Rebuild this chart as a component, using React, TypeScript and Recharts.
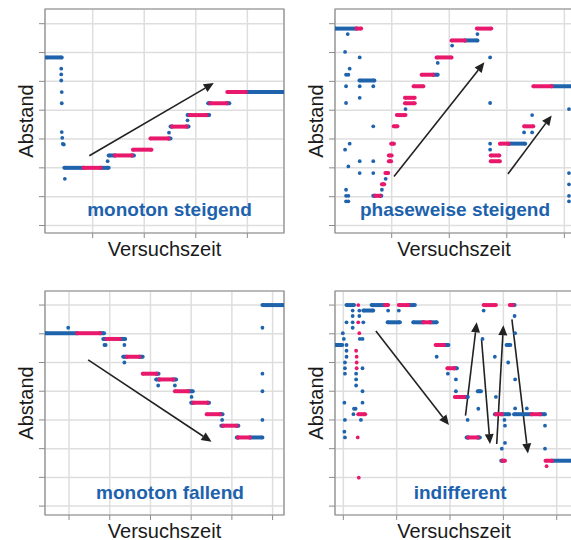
import {
  ScatterChart, Scatter, XAxis, YAxis, CartesianGrid, ReferenceLine, ReferenceArea, ReferenceDot, Label,
} from 'recharts'

const BLUE = '#1f63ad'
const PINK = '#e8196c'
const TITLE_BLUE = '#1d62ad'
const GRID = '#dedede'
const FRAME = '#8c8c8c'
const ARROW = '#222222'
const FONT = '"Liberation Sans", Arial, sans-serif'

// [x from, x to, level]
type Run = [number, number, number]
type Pt = [number, number]
// [x1, y1, x2, y2]
type Arrow = [number, number, number, number]

const Y_TICKS = [1, 2, 3, 4, 5, 6, 7, 8]

// --- monoton steigend
const p1BlueRuns: Run[] = [
  [0.1, 0.4, 6.83],
  [0.45, 0.82, 3.0], [1.155, 1.31, 3.0],
  [1.31, 1.43, 3.43], [1.76, 1.8, 3.43],
  [2.47, 2.51, 4.02],
  [2.51, 2.54, 4.43], [2.82, 2.86, 4.43],
  [2.84, 2.88, 4.83], [3.21, 3.26, 4.83],
  [3.24, 3.28, 5.24], [3.6, 3.65, 5.24],
  [3.97, 4.7, 5.63],
]
const p1PinkRuns: Run[] = [
  [0.82, 1.155, 3.0],
  [1.43, 1.76, 3.43],
  [1.78, 2.14, 3.63],
  [2.12, 2.47, 4.02],
  [2.54, 2.82, 4.43],
  [2.88, 3.21, 4.83],
  [3.28, 3.6, 5.24],
  [3.61, 3.97, 5.63],
]
const p1BlueDots: Pt[] = [
  [0.39, 6.44], [0.39, 6.24], [0.39, 6.03], [0.4, 5.63], [0.4, 5.24],
  [0.4, 4.24], [0.41, 4.04], [0.42, 3.83], [0.44, 3.81], [0.46, 2.62],
  [1.29, 3.23], [2.48, 4.22], [2.84, 4.65],
]
const p1PinkDots: Pt[] = []
const p1Arrows: Arrow[] = [[0.935, 3.42, 3.35, 5.94]]

// --- phaseweise steigend
const p2BlueRuns: Run[] = [
  [0.02, 0.39, 7.83],
  [0.44, 0.7, 6.03],
  [0.68, 0.71, 2.03], [0.8, 0.82, 2.03],
  [1.72, 1.8, 6.23],
  [2.27, 2.49, 7.42],
  [3.03, 3.32, 3.84],
  [3.78, 4.15, 5.83],
]
const p2PinkRuns: Run[] = [
  [0.39, 0.47, 7.83],
  [0.71, 0.8, 2.03],
  [0.83, 0.87, 2.43],
  [0.89, 0.94, 2.82],
  [0.95, 0.99, 3.23],
  [0.95, 1.0, 3.43],
  [0.99, 1.04, 3.84],
  [1.035, 1.1, 4.44],
  [1.09, 1.24, 4.83],
  [1.23, 1.4, 5.24],
  [1.23, 1.4, 5.43],
  [1.38, 1.55, 5.83],
  [1.52, 1.72, 6.23],
  [1.78, 2.04, 6.83],
  [2.04, 2.27, 7.42],
  [2.48, 2.73, 7.83],
  [2.72, 2.87, 3.43],
  [2.72, 2.88, 3.23],
  [2.88, 3.03, 3.84],
  [3.3, 3.46, 4.44],
  [3.46, 3.78, 5.83],
]
const p2BlueDots: Pt[] = [
  [0.236, 7.64], [0.19, 7.02], [0.444, 6.83], [0.27, 6.44], [0.207, 6.23], [0.247, 6.23],
  [0.207, 5.83], [0.207, 5.25], [0.19, 3.63], [0.27, 3.84], [0.247, 3.05],
  [0.207, 2.24], [0.207, 2.03], [0.247, 2.03], [0.207, 1.84], [0.247, 1.84],
  [0.444, 5.83], [0.444, 5.43], [0.68, 5.83], [0.68, 4.44],
  [0.444, 3.23], [0.68, 3.23], [0.444, 2.82], [0.68, 2.82],
  [0.83, 2.24], [0.896, 2.62], [1.24, 5.04], [1.8, 6.64], [2.05, 7.24], [2.49, 7.64],
  [2.71, 6.83], [2.71, 5.25], [2.71, 3.84], [2.71, 3.63],
  [3.3, 4.23], [3.44, 4.23], [3.44, 4.83],
  [4.08, 5.04], [4.08, 2.82], [4.08, 2.43], [4.08, 2.03], [4.08, 1.84],
]
const p2PinkDots: Pt[] = []
const p2Arrows: Arrow[] = [
  [1.04, 2.7, 2.61, 6.66],
  [3.02, 2.79, 3.78, 4.82],
]

// --- monoton fallend
const p3BlueRuns: Run[] = [
  [0.43, 1.2, 7.02], [1.76, 1.86, 7.02],
  [1.84, 1.92, 6.82], [2.25, 2.38, 6.82],
  [2.33, 2.42, 6.2], [2.73, 2.81, 6.2],
  [3.15, 3.2, 5.61],
  [3.14, 3.22, 5.41], [3.56, 3.63, 5.41],
  [3.93, 4.04, 5.0],
  [4.0, 4.05, 4.6], [4.4, 4.44, 4.6],
  [4.71, 4.77, 4.2],
  [4.74, 4.78, 3.8], [5.12, 5.16, 3.8],
  [5.12, 5.15, 3.39], [5.44, 5.75, 3.39],
  [5.75, 6.26, 8.0],
]
const p3PinkRuns: Run[] = [
  [1.2, 1.76, 7.02],
  [1.92, 2.25, 6.82],
  [2.42, 2.73, 6.2],
  [2.81, 3.15, 5.61],
  [3.22, 3.56, 5.41],
  [3.6, 3.93, 5.0],
  [4.05, 4.4, 4.6],
  [4.38, 4.71, 4.2],
  [4.78, 5.12, 3.8],
  [5.15, 5.44, 3.39],
]
const p3BlueDots: Pt[] = [
  [0.98, 7.21], [1.87, 6.61], [1.9, 6.61], [2.36, 6.61], [2.36, 6.0],
  [3.19, 5.2], [3.6, 5.2], [4.01, 4.8], [4.76, 4.0],
  [5.75, 4.0], [5.75, 5.0], [5.75, 5.61], [5.75, 7.21],
]
const p3PinkDots: Pt[] = []
const p3Arrows: Arrow[] = [[1.47, 6.09, 4.5, 3.24]]

// --- indifferent
const p4BlueRuns: Run[] = [
  [1.06, 1.2, 8.0], [1.53, 1.78, 8.0], [2.22, 2.34, 8.0], [4.18, 4.21, 8.0],
  [1.375, 1.56, 7.81],
  [1.83, 2.06, 7.4], [2.31, 2.5, 7.4], [2.63, 2.75, 7.4],
  [0.86, 0.98, 6.61], [2.89, 2.97, 6.61], [4.06, 4.13, 6.61],
  [3.08, 3.13, 5.8],
  [3.52, 3.58, 5.0],
  [3.28, 3.33, 4.8],
  [3.84, 3.86, 4.2], [3.97, 4.11, 4.2], [4.2, 4.53, 4.2], [4.69, 4.78, 4.2],
  [3.31, 3.34, 3.39], [3.52, 3.56, 3.39],
  [3.96, 3.98, 2.58], [4.91, 5.3, 2.58],
]
const p4PinkRuns: Run[] = [
  [1.78, 1.84, 8.0], [2.04, 2.22, 8.0], [3.63, 3.86, 8.0], [4.12, 4.18, 8.0],
  [2.5, 2.63, 7.4],
  [2.73, 2.89, 6.61],
  [2.95, 3.08, 5.8],
  [3.09, 3.28, 4.8],
  [1.28, 1.41, 4.2], [3.86, 3.97, 4.2], [4.53, 4.69, 4.2],
  [3.34, 3.52, 3.39],
  [3.98, 4.03, 2.58], [4.79, 4.91, 2.58],
]
const p4BlueDots: Pt[] = [
  [1.175, 7.81], [1.3, 7.81], [1.84, 7.81], [2.04, 7.81], [3.63, 7.81],
  [1.175, 7.62], [1.3, 7.62], [4.21, 7.62],
  [1.06, 7.4], [1.175, 7.4], [1.375, 7.4],
  [1.175, 7.21],
  [0.99, 7.02], [4.22, 7.02],
  [1.01, 6.82], [1.31, 6.82], [1.36, 6.82], [3.61, 6.82],
  [1.06, 6.61],
  [1.06, 6.41],
  [1.06, 6.2], [2.75, 6.2], [3.84, 6.2],
  [1.03, 6.0], [4.09, 6.0],
  [1.03, 5.8], [1.36, 5.8],
  [1.03, 5.61], [1.24, 5.61], [2.96, 5.61],
  [1.24, 5.41], [3.11, 5.41], [4.22, 5.41],
  [1.24, 5.2],
  [1.36, 5.0], [3.11, 5.0],
  [3.33, 4.8], [3.86, 4.8],
  [1.02, 4.6], [1.36, 4.6],
  [1.2, 4.39], [1.23, 4.39], [3.53, 4.39], [4.22, 4.4], [4.44, 4.4],
  [1.19, 4.2],
  [1.03, 4.0], [1.33, 4.0], [3.33, 4.0], [4.02, 4.0],
  [4.03, 3.8], [4.78, 3.8],
  [1.02, 3.59],
  [1.03, 3.39],
  [4.03, 3.2],
  [3.97, 3.0], [4.78, 3.0],
]
const p4PinkDots: Pt[] = [
  [1.28, 8.0], [1.28, 7.4], [1.3, 7.02], [1.24, 6.41], [1.25, 6.2], [1.25, 6.0], [1.25, 5.8],
  [1.27, 3.39], [1.29, 1.99], [4.81, 2.39],
]
const p4Arrows: Arrow[] = [
  [1.61, 7.1, 2.98, 3.82],
  [3.29, 4.15, 3.5, 7.4],
  [3.59, 6.82, 3.75, 3.16],
  [3.875, 3.16, 4.0, 7.3],
  [4.16, 7.5, 4.46, 2.83],
]

const panels = [
  {
    title: 'monoton steigend', left: 0, top: 0, right: 6,
    xDomain: [0.075, 4.711], xTicks: [1, 2, 3, 4], yDomain: [0.74, 8.51], titleAt: [2.49, 1.58],
    blueRuns: p1BlueRuns, pinkRuns: p1PinkRuns, blueDots: p1BlueDots, pinkDots: p1PinkDots, arrows: p1Arrows,
  },
  {
    title: 'phaseweise steigend', left: 290, top: 0, right: 7,
    xDomain: [0.015, 4.15], xTicks: [1, 2, 3, 4], yDomain: [0.74, 8.51], titleAt: [2.1, 1.58],
    blueRuns: p2BlueRuns, pinkRuns: p2PinkRuns, blueDots: p2BlueDots, pinkDots: p2PinkDots, arrows: p2Arrows,
  },
  {
    title: 'monoton fallend', left: 0, top: 282, right: 6,
    xDomain: [0.41, 6.28], xTicks: [1, 2, 3, 4, 5, 6], yDomain: [0.69, 8.49], titleAt: [3.48, 1.47],
    blueRuns: p3BlueRuns, pinkRuns: p3PinkRuns, blueDots: p3BlueDots, pinkDots: p3PinkDots, arrows: p3Arrows,
  },
  {
    title: 'indifferent', left: 290, top: 282, right: 7,
    xDomain: [0.844, 5.305], xTicks: [1, 2, 3, 4, 5], yDomain: [0.69, 8.49], titleAt: [3.19, 1.47],
    blueRuns: p4BlueRuns, pinkRuns: p4PinkRuns, blueDots: p4BlueDots, pinkDots: p4PinkDots, arrows: p4Arrows,
  },
]

const arrowShape = (p: any) => {
  const { x1, y1, x2, y2 } = p
  const dx = x2 - x1
  const dy = y2 - y1
  const len = Math.hypot(dx, dy) || 1
  const ux = dx / len
  const uy = dy / len
  const hl = 10
  const hw = 4.5
  const bx = x2 - ux * hl
  const by = y2 - uy * hl
  return (
    <g>
      <line x1={x1} y1={y1} x2={bx} y2={by} stroke={ARROW} strokeWidth={1.6} />
      <polygon
        points={`${x2},${y2} ${bx - uy * hw},${by + ux * hw} ${bx + uy * hw},${by - ux * hw}`}
        fill={ARROW}
      />
    </g>
  )
}

const dotShape = (color: string, r: number) => (p: any) => (
  <circle cx={p.cx} cy={p.cy} r={r} fill={color} />
)

// tick marks only, no tick text
const noTickText = () => <g />

const xLabel = (props: any) => {
  const vb = props.viewBox
  return (
    <text x={vb.x + vb.width / 2} y={vb.y + 22.5} textAnchor="middle"
      fontSize={20} fontFamily={FONT} fill="#1a1a1a">Versuchszeit</text>
  )
}

const yLabel = (props: any) => {
  const vb = props.viewBox
  const x = vb.x + 32.5
  const y = vb.y + vb.height / 2
  return (
    <text x={x} y={y} textAnchor="middle" transform={`rotate(-90 ${x} ${y})`}
      fontSize={20} fontFamily={FONT} fill="#1a1a1a">Abstand</text>
  )
}

const runData = (r: Run) => [{ x: r[0], y: r[2] }, { x: r[1], y: r[2] }]
const ptData = (pts: Pt[]) => pts.map(([x, y]) => ({ x, y }))

function Panel({ cfg }: { cfg: typeof panels[number] }) {
  const [x0, x1] = cfg.xDomain
  const [y0, y1] = cfg.yDomain
  return (
    <div style={{ position: 'absolute', left: cfg.left, top: cfg.top }}>
      <ScatterChart width={290} height={270} margin={{ top: 9, right: cfg.right, bottom: 0, left: 0 }}>
        <CartesianGrid stroke={GRID} strokeWidth={1.5} />
        <XAxis
          type="number" dataKey="x" domain={cfg.xDomain} ticks={cfg.xTicks} allowDataOverflow interval={0}
          tick={noTickText} tickLine={{ stroke: FRAME }} axisLine={false} tickSize={5} height={37}
          label={<Label content={xLabel} />}
        />
        <YAxis
          type="number" dataKey="y" domain={cfg.yDomain} ticks={Y_TICKS} allowDataOverflow interval={0}
          tick={noTickText} tickLine={{ stroke: FRAME }} axisLine={false} tickSize={6} width={45}
          label={<Label content={yLabel} />}
        />
        <ReferenceArea x1={x0} x2={x1} y1={y0} y2={y1} fill="none" stroke={FRAME} strokeWidth={1.2} ifOverflow="visible" />
        {cfg.blueRuns.map((r, i) => (
          <Scatter key={`b${i}`} data={runData(r)} fill={BLUE} line={{ stroke: BLUE, strokeWidth: 4 }}
            shape={dotShape(BLUE, 2)} isAnimationActive={false} />
        ))}
        {cfg.pinkRuns.map((r, i) => (
          <Scatter key={`p${i}`} data={runData(r)} fill={PINK} line={{ stroke: PINK, strokeWidth: 4 }}
            shape={dotShape(PINK, 2)} isAnimationActive={false} />
        ))}
        <Scatter data={ptData(cfg.blueDots)} fill={BLUE} shape={dotShape(BLUE, 1.9)} isAnimationActive={false} />
        <Scatter data={ptData(cfg.pinkDots)} fill={PINK} shape={dotShape(PINK, 1.9)} isAnimationActive={false} />
        {cfg.arrows.map((a, i) => (
          <ReferenceLine key={`a${i}`} segment={[{ x: a[0], y: a[1] }, { x: a[2], y: a[3] }]}
            shape={arrowShape} ifOverflow="visible" />
        ))}
        <ReferenceDot
          x={cfg.titleAt[0]} y={cfg.titleAt[1]} r={0} fill="none" stroke="none" ifOverflow="visible"
          label={{ value: cfg.title, position: 'center', fill: TITLE_BLUE, fontSize: 19, fontWeight: 700, fontFamily: FONT }}
        />
      </ScatterChart>
    </div>
  )
}

export default function App() {
  return (
    <div style={{
      position: 'absolute', left: 0, top: 0, width: 571, height: 540,
      overflow: 'hidden', background: '#fff',
    }}>
      {panels.map((p) => <Panel key={p.title} cfg={p} />)}
    </div>
  )
}
